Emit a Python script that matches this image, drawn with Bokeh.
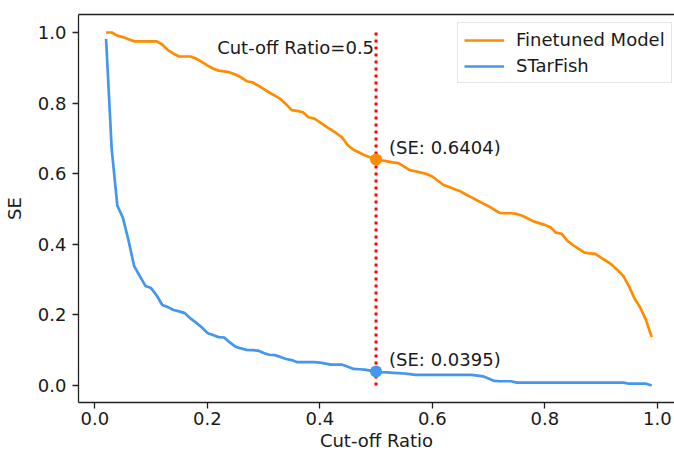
from bokeh.plotting import figure
from bokeh.models import (Range1d, FixedTicker, Legend, LegendItem, Label,
                          LinearAxis, NumeralTickFormatter)
from bokeh.embed import file_html
from bokeh.resources import INLINE

# ---------------- data ----------------
ratios = [round(0.02 + 0.01 * i, 2) for i in range(98)]  # 0.02 .. 0.99

finetuned_se = [
    1.000, 1.000, 0.991, 0.987, 0.981, 0.975, 0.975, 0.975, 0.975, 0.975,  # 0.02-0.11
    0.966, 0.950, 0.940, 0.932, 0.932, 0.932, 0.926, 0.917, 0.907, 0.898,  # 0.12-0.21
    0.892, 0.890, 0.887, 0.881, 0.873, 0.862, 0.859, 0.850, 0.840, 0.830,  # 0.22-0.31
    0.821, 0.812, 0.797, 0.780, 0.778, 0.774, 0.760, 0.756, 0.746, 0.735,  # 0.32-0.41
    0.725, 0.714, 0.702, 0.680, 0.668, 0.660, 0.652, 0.646, 0.6404, 0.638,  # 0.42-0.51
    0.635, 0.632, 0.630, 0.620, 0.610, 0.607, 0.603, 0.599, 0.592, 0.580,  # 0.52-0.61
    0.568, 0.562, 0.556, 0.550, 0.541, 0.533, 0.524, 0.516, 0.508, 0.498,  # 0.62-0.71
    0.489, 0.488, 0.488, 0.486, 0.481, 0.473, 0.465, 0.460, 0.455, 0.448,  # 0.72-0.81
    0.433, 0.430, 0.410, 0.398, 0.387, 0.377, 0.374, 0.373, 0.362, 0.352,  # 0.82-0.91
    0.341, 0.326, 0.309, 0.280, 0.245, 0.220, 0.185, 0.137,                # 0.92-0.99
]

starfish_se = [
    0.982, 0.670, 0.510, 0.475, 0.410, 0.338, 0.310, 0.282, 0.276, 0.255,  # 0.02-0.11
    0.228, 0.222, 0.214, 0.210, 0.205, 0.190, 0.178, 0.165, 0.149, 0.143,  # 0.12-0.21
    0.137, 0.136, 0.122, 0.110, 0.105, 0.101, 0.100, 0.099, 0.092, 0.087,  # 0.22-0.31
    0.086, 0.081, 0.075, 0.072, 0.066, 0.066, 0.066, 0.066, 0.065, 0.062,  # 0.32-0.41
    0.059, 0.059, 0.059, 0.053, 0.047, 0.046, 0.045, 0.042, 0.0395, 0.038,  # 0.42-0.51
    0.037, 0.036, 0.035, 0.034, 0.032, 0.030, 0.030, 0.030, 0.030, 0.030,  # 0.52-0.61
    0.030, 0.030, 0.030, 0.030, 0.030, 0.030, 0.028, 0.026, 0.020, 0.013,  # 0.62-0.71
    0.012, 0.012, 0.012, 0.008, 0.008, 0.008, 0.008, 0.008, 0.008, 0.008,  # 0.72-0.81
    0.008, 0.008, 0.008, 0.008, 0.008, 0.008, 0.008, 0.008, 0.008, 0.008,  # 0.82-0.91
    0.008, 0.008, 0.008, 0.005, 0.005, 0.005, 0.005, 0.000,                # 0.92-0.99
]

cutoff = 0.5
cutoff_top = 1.0
finetuned_at_cut = 0.6404
starfish_at_cut = 0.0395

x_ticks = [0.0, 0.2, 0.4, 0.6, 0.8, 1.0]
y_ticks = [0.0, 0.2, 0.4, 0.6, 0.8, 1.0]

series_names = ["Finetuned Model", "STarFish"]
x_title = "Cut-off Ratio"
y_title = "SE"
ORANGE = "#ff8c00"
BLUE = "#4596ee"
FONT = "DejaVu Sans"
TXT = "#1a1a1a"
FS = "18px"

# ---------------- figure ----------------
p = figure(width=674, height=456, output_backend="svg", toolbar_location=None,
           x_range=Range1d(-0.029, 1.0306), y_range=Range1d(-0.0482, 1.051),
           min_border_left=78, min_border_right=0, min_border_top=14,
           min_border_bottom=54)
p.background_fill_color = "white"
p.border_fill_color = "white"
p.outline_line_color = None
p.xgrid.visible = False
p.ygrid.visible = False

for ax in (p.xaxis[0], p.yaxis[0]):
    ax.axis_line_color = "#222222"
    ax.axis_line_width = 1.3
    ax.major_tick_line_color = "#222222"
    ax.major_tick_line_width = 1.3
    ax.major_tick_out = 6
    ax.major_tick_in = 0
    ax.minor_tick_line_color = None
    ax.major_label_text_font = FONT
    ax.major_label_text_font_size = FS
    ax.major_label_text_color = TXT
    ax.axis_label_text_font = FONT
    ax.axis_label_text_font_size = FS
    ax.axis_label_text_font_style = "normal"
    ax.axis_label_text_color = TXT
    ax.formatter = NumeralTickFormatter(format="0.0")

p.xaxis[0].ticker = FixedTicker(ticks=x_ticks)
p.yaxis[0].ticker = FixedTicker(ticks=y_ticks)
p.xaxis[0].axis_label = x_title
p.yaxis[0].axis_label = y_title
p.xaxis[0].major_label_standoff = 3
p.xaxis[0].axis_label_standoff = 2
p.yaxis[0].major_label_standoff = 6
p.yaxis[0].axis_label_standoff = 10

# top spine
top = LinearAxis(ticker=FixedTicker(ticks=[]), axis_line_color="#222222",
                 axis_line_width=1.3, major_tick_line_color=None,
                 minor_tick_line_color=None, major_label_text_font_size="0px")
p.add_layout(top, "above")

# ---------------- marks ----------------
r_ft = p.line(ratios, finetuned_se, line_color=ORANGE, line_width=2.7)
r_sf = p.line(ratios, starfish_se, line_color=BLUE, line_width=2.7)

p.line([cutoff, cutoff], [0.0, cutoff_top], line_color="red", line_width=3,
       line_dash="3 4")

p.scatter([cutoff], [finetuned_at_cut], size=12, fill_color=ORANGE,
          line_color=None)
p.scatter([cutoff], [starfish_at_cut], size=12, fill_color=BLUE,
          line_color=None)

p.add_layout(Label(x=cutoff, y=0.9575, text="Cut-off Ratio=0.5",
                   text_align="right", text_baseline="middle", x_offset=-2,
                   text_font=FONT, text_font_size=FS, text_color=TXT))
p.add_layout(Label(x=cutoff, y=finetuned_at_cut, text="(SE: %.4f)" % finetuned_at_cut,
                   text_align="left", text_baseline="middle", x_offset=13,
                   y_offset=12, text_font=FONT, text_font_size=FS,
                   text_color=TXT))
p.add_layout(Label(x=cutoff, y=starfish_at_cut, text="(SE: %.4f)" % starfish_at_cut,
                   text_align="left", text_baseline="middle", x_offset=13,
                   y_offset=12, text_font=FONT, text_font_size=FS,
                   text_color=TXT))

legend = Legend(items=[LegendItem(label=series_names[0], renderers=[r_ft]),
                       LegendItem(label=series_names[1], renderers=[r_sf])],
                location=(379, 319), orientation="vertical",
                label_text_font=FONT, label_text_font_size=FS,
                label_text_color=TXT, glyph_width=40, glyph_height=20,
                label_height=20, label_standoff=12, padding=6, spacing=5,
                margin=0, border_line_color="#cccccc", border_line_width=1.3,
                background_fill_color="white", background_fill_alpha=0.85)
p.add_layout(legend)

open("out.html", "w").write(file_html(p, INLINE))
